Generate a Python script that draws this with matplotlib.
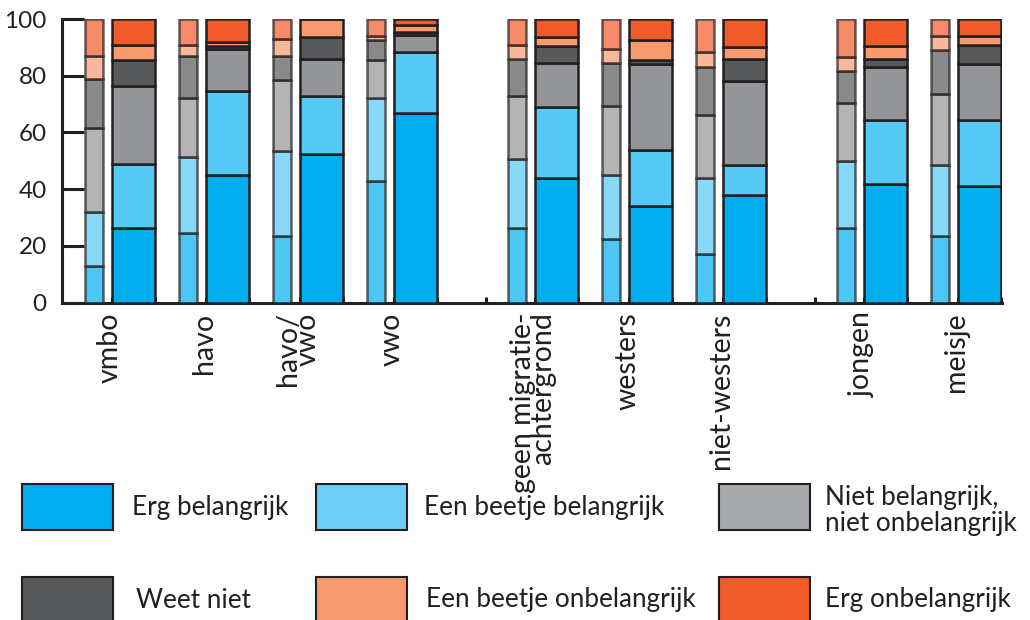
import matplotlib
matplotlib.use('Agg')
import matplotlib.pyplot as plt
from matplotlib.patches import Rectangle
import numpy as np

plt.rcParams['font.family'] = 'Lato'

categorieen = ['vmbo', 'havo', 'havo/\nvwo', 'vwo', 'geen migratie-\nachtergrond',
               'westers', 'niet-westers', 'jongen', 'meisje']
posities = [0, 1, 2, 3, 4.5, 5.5, 6.5, 8, 9]  # lege ruimte tussen de drie blokken

antwoorden = ['Erg belangrijk', 'Een beetje belangrijk', 'Niet belangrijk,\nniet onbelangrijk',
              'Weet niet', 'Een beetje onbelangrijk', 'Erg onbelangrijk']

# smalle (lichte) staven, per antwoord, per categorie
licht_erg = [13, 24.5, 23.5, 43, 26.5, 22.5, 17, 26.5, 23.5]
licht_beetje = [19, 27, 30, 29, 24, 22.5, 27, 23.5, 25]
licht_niet = [29.5, 20.5, 25, 13.5, 22.5, 24.5, 22, 20.5, 25]
licht_weet = [17.5, 15, 8.5, 7, 13, 15, 17, 11, 15.5]
licht_beetje_on = [8, 4, 6, 1.5, 5, 5, 5.5, 5, 5]
licht_erg_on = [13, 9, 7, 6, 9, 10.5, 11.5, 13.5, 6]

# brede staven
vol_erg = [26.5, 45, 52.5, 67, 44, 34, 38, 42, 41]
vol_beetje = [22.5, 29.5, 20.5, 21.5, 25, 20, 10.5, 22.5, 23.5]
vol_niet = [27.5, 15, 13, 6, 15.5, 30, 29.5, 18.5, 19.5]
vol_weet = [9, 1, 7.5, 1, 6, 1.5, 8, 3, 7]
vol_beetje_on = [5.5, 1.5, 6.5, 2.5, 3, 7, 4, 4.5, 3]
vol_erg_on = [9, 8, 0, 2, 6.5, 7.5, 10, 9.5, 6]

licht = [licht_erg, licht_beetje, licht_niet, licht_weet, licht_beetje_on, licht_erg_on]
vol = [vol_erg, vol_beetje, vol_niet, vol_weet, vol_beetje_on, vol_erg_on]

kleuren = ['#00AEEF', '#56CAF5', '#939598', '#58595B', '#F79B6F', '#F15A29']
legenda_kleuren = ['#00AEEF', '#6DCFF6', '#A7A9AC', '#58595B', '#F69A6E', '#F15A29']
zwart = '#231F20'

W, H = 1030, 620
fig = plt.figure(figsize=(W / 100, H / 100), dpi=100)
ax = fig.add_axes([62 / W, 1 - 302.7 / H, 940 / W, 283.7 / H])

x = np.array(posities)
bodem_l = np.zeros(len(x))
bodem_v = np.zeros(len(x))
for i in range(len(kleuren)):
    ax.bar(x - 0.42, licht[i], width=0.2, bottom=bodem_l, color=kleuren[i],
           edgecolor=zwart, linewidth=1.8, alpha=0.7, zorder=3)
    ax.bar(x, vol[i], width=0.46, bottom=bodem_v, color=kleuren[i],
           edgecolor=zwart, linewidth=1.8, zorder=3)
    bodem_l += np.array(licht[i])
    bodem_v += np.array(vol[i])

ax.set_xlim(-0.761, 9.239)
ax.set_ylim(0, 100)
ax.set_yticks(range(0, 101, 20))
ax.tick_params(axis='y', direction='in', length=16, width=2.2, color=zwart,
               labelsize=17.5, labelcolor=zwart, pad=11)

ax.set_xticks(x - 0.25)
ax.set_xticklabels(categorieen, rotation=90, va='top', ha='center',
                   multialignment='right', linespacing=0.7)
ax.tick_params(axis='x', length=0, labelsize=20.5, labelcolor=zwart, pad=7)
randen = list(x - 0.23) + list(x + 0.23) + [3.75, 7.25]
ax.set_xticks(randen, minor=True)
ax.tick_params(axis='x', which='minor', direction='in', length=4, width=2.2, color=zwart)

for s in ['top', 'right']:
    ax.spines[s].set_visible(False)
for s in ['left', 'bottom']:
    ax.spines[s].set_linewidth(2.2)
    ax.spines[s].set_color(zwart)


# legenda, handmatig geplaatst zoals in het origineel
def px(xp, yp):
    return xp / W, 1 - yp / H


vakken_x = [22, 316, 719, 22, 316, 719]
vakken_y = [484, 484, 484, 577, 577, 577]
tekst_x = [132, 424, 825, 136, 426, 825]
tekst_y = [507, 507, 511, 600, 600, 600]
for i in range(6):
    x0, y0 = px(vakken_x[i], vakken_y[i] + 46)
    fig.add_artist(Rectangle((x0, y0), 91 / W, 46 / H, transform=fig.transFigure,
                             facecolor=legenda_kleuren[i], edgecolor=zwart, linewidth=1.5))
    tx, ty = px(tekst_x[i], tekst_y[i])
    fig.text(tx, ty, antwoorden[i], fontsize=18.8, color=zwart, va='center', ha='left',
             linespacing=1.05)

fig.savefig('out.png', dpi=100)
